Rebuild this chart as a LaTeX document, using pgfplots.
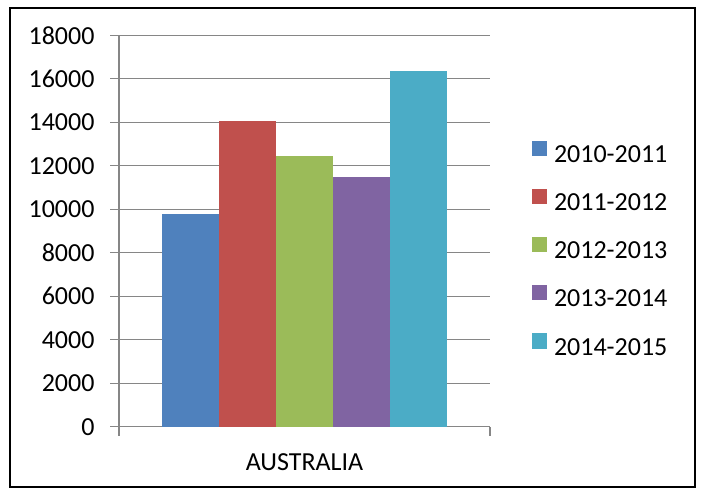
\documentclass[border=0pt]{standalone}
\usepackage{fontspec}
\setmainfont{Carlito}
\usepackage{pgfplots}
\pgfplotsset{compat=1.18}
\definecolor{s1}{HTML}{4F81BD}
\definecolor{s2}{HTML}{C0504D}
\definecolor{s3}{HTML}{9BBB59}
\definecolor{s4}{HTML}{8064A2}
\definecolor{s5}{HTML}{4BACC6}
\definecolor{gridc}{HTML}{868686}
\begin{document}
\begin{tikzpicture}
\path[use as bounding box] (0,0) rectangle (704bp,-490bp);
\draw[line width=2bp] (9.5bp,-7.5bp) rectangle (694.5bp,-487bp);
\begin{axis}[
  at={(119bp,-426.7bp)}, anchor=south west,
  scale only axis, width=371bp, height=391.4bp,
  xmin=0, xmax=1, ymin=0, ymax=18000,
  ybar=0pt, bar width=57bp,
  axis x line=bottom, axis y line=left,
  axis line style={-, gridc, line width=1.3bp},
  ytick={0,2000,...,18000},
  scaled y ticks=false,
  ymajorgrids, grid style={gridc, line width=1.3bp},
  tick style={gridc, line width=1.3bp},
  tick align=outside, major tick length=9bp,
  xtick={0,1}, xticklabels={},
  xlabel={AUSTRALIA},
  xlabel style={at={(axis description cs:0.5,0)}, anchor=base, yshift=-43.3bp, inner sep=0pt},
  label style={font=\fontsize{26bp}{31bp}\selectfont},
  ticklabel style={font=\fontsize{26bp}{31bp}\selectfont},
  yticklabel style={xshift=-12bp},
  /pgf/number format/1000 sep={},
  /pgf/number format/assume math mode=true,
  legend style={draw=none, at={(axis description cs:1.1124,0.731)}, anchor=north west,
    inner sep=0pt, outer sep=0pt, row sep=21bp, column sep=6.7bp,
    font=\fontsize{26bp}{31bp}\selectfont,
    nodes={inner sep=0pt, text height=18bp, text depth=5bp, anchor=west}},
  legend cell align=left,
  legend image code/.code={\fill[#1] (0bp,0bp) rectangle (15.6bp,15.6bp);},
]
\addplot[fill=s1, draw=none] coordinates {(0.5,9800)};
\addplot[fill=s2, draw=none] coordinates {(0.5,14060)};
\addplot[fill=s3, draw=none] coordinates {(0.5,12460)};
\addplot[fill=s4, draw=none] coordinates {(0.5,11500)};
\addplot[fill=s5, draw=none] coordinates {(0.5,16350)};
\legend{2010-2011,2011-2012,2012-2013,2013-2014,2014-2015}
\end{axis}
\end{tikzpicture}
\end{document}
